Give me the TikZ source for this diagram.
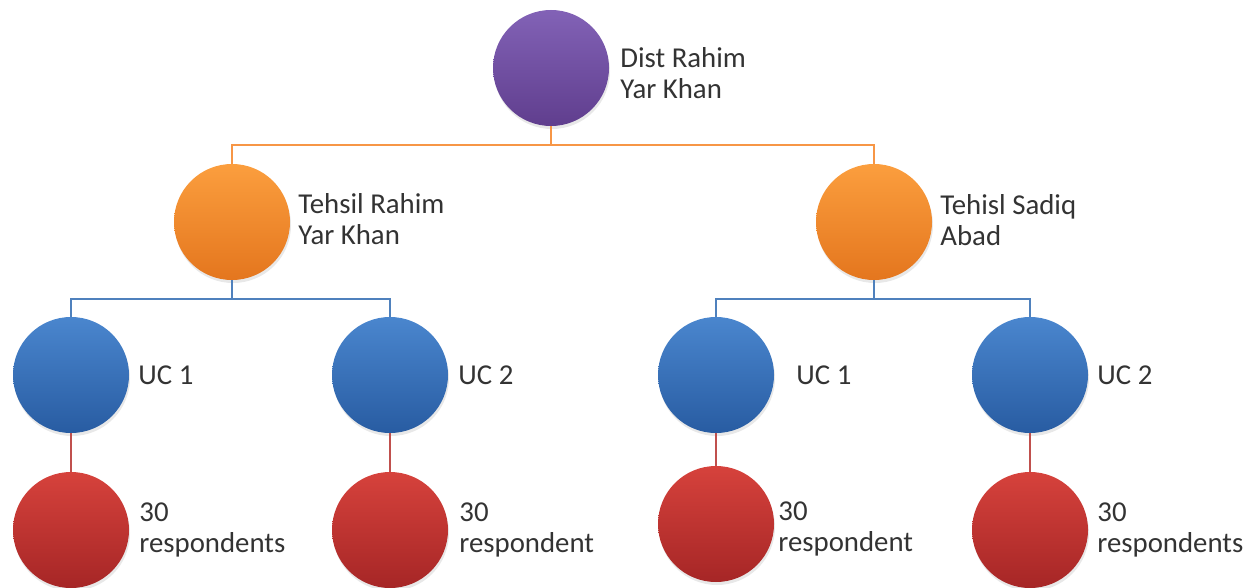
\documentclass[tikz,border=0pt]{standalone}
\usepackage{fontspec}
\setmainfont{Carlito}
\usetikzlibrary{positioning,shadows}

\definecolor{distTop}{RGB}{130,98,182}
\definecolor{distBot}{RGB}{96,62,142}
\definecolor{tehTop}{RGB}{251,158,62}
\definecolor{tehBot}{RGB}{228,118,30}
\definecolor{ucTop}{RGB}{74,134,206}
\definecolor{ucBot}{RGB}{40,92,162}
\definecolor{resTop}{RGB}{214,66,60}
\definecolor{resBot}{RGB}{166,38,38}
\definecolor{lnOrange}{RGB}{247,150,70}
\definecolor{lnBlue}{RGB}{79,129,189}
\definecolor{lnRed}{RGB}{192,80,77}

\begin{document}
\begin{tikzpicture}[x=1pt,y=-1pt]
\tikzset{
  unit/.style={circle,minimum size=116pt,inner sep=0pt,
    drop shadow={shadow xshift=1pt,shadow yshift=-3pt,opacity=0.18}},
  distunit/.style={unit,top color=distTop,bottom color=distBot},
  tehunit/.style={unit,top color=tehTop,bottom color=tehBot},
  ucunit/.style={unit,top color=ucTop,bottom color=ucBot},
  resunit/.style={unit,top color=resTop,bottom color=resBot},
  lbl/.style={font=\fontsize{28.8}{31}\selectfont,text=black!80,align=left,inner sep=0pt,anchor=west},
  link/.style={line width=2pt}
}
\useasboundingbox (0,0) rectangle (1250,588);

% District
\node[distunit] (dist) at (551,68) {};
\node[lbl,right=11pt of dist.east,yshift=-5.6pt] (distL) {Dist Rahim\\Yar Khan};

% Tehsils
\node[tehunit] (trk) at (232,222) {};
\node[tehunit] (tsa) at (874,222) {};
\node[lbl,right=8pt of trk.east,yshift=3pt] (trkL) {Tehsil Rahim\\Yar Khan};
\node[lbl,right=8pt of tsa.east,yshift=2pt] (tsaL) {Tehisl Sadiq\\Abad};

% Union councils
\node[ucunit] (ucA) at (71,375) {};
\node[ucunit] (ucB) at (390,375) {};
\node[ucunit] (ucC) at (716,375) {};
\node[ucunit] (ucD) at (1030,375) {};
\node[lbl,right=9pt of ucA.east] (ucAL) {UC 1};
\node[lbl,right=10pt of ucB.east] (ucBL) {UC 2};
\node[lbl,right=22pt of ucC.east] (ucCL) {UC 1};
\node[lbl,right=9pt of ucD.east] (ucDL) {UC 2};

% Respondents
\node[resunit] (resA) at (71,530) {};
\node[resunit] (resB) at (390,530) {};
\node[resunit] (resC) at (716,524) {};
\node[resunit] (resD) at (1030,530) {};
\node[lbl,right=10pt of resA.east] (resAL) {30\\respondents};
\node[lbl,right=11pt of resB.east] (resBL) {30\\respondent};
\node[lbl,right=4pt of resC.east,yshift=-5pt] (resCL) {30\\respondent};
\node[lbl,right=9pt of resD.east] (resDL) {30\\respondents};

% Connectors
\coordinate (jDist) at (551,145);
\coordinate (jTrk) at (232,299);
\coordinate (jTsa) at (874,299);
\draw[link,lnOrange] (dist.south) -- (jDist);
\draw[link,lnOrange] (jDist) -| (trk.north);
\draw[link,lnOrange] (jDist) -| (tsa.north);
\draw[link,lnBlue] (trk.south) -- (jTrk);
\draw[link,lnBlue] (jTrk) -| (ucA.north);
\draw[link,lnBlue] (jTrk) -| (ucB.north);
\draw[link,lnBlue] (tsa.south) -- (jTsa);
\draw[link,lnBlue] (jTsa) -| (ucC.north);
\draw[link,lnBlue] (jTsa) -| (ucD.north);
\foreach \u/\r in {ucA/resA,ucB/resB,ucC/resC,ucD/resD}
  \draw[link,lnRed] (\u.south) -- (\r.north);
\end{tikzpicture}
\end{document}
